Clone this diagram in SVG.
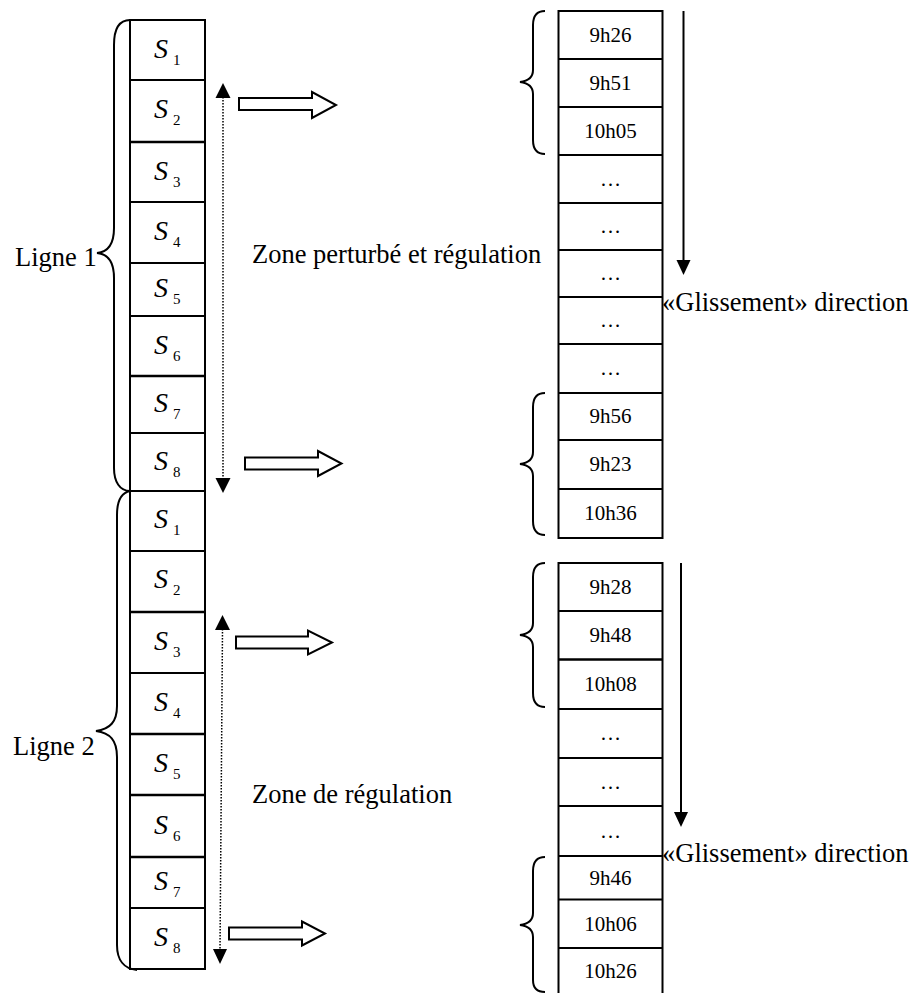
<svg xmlns="http://www.w3.org/2000/svg" width="914" height="993" viewBox="0 0 914 993">
  <style>
    .cell { fill: #fff; stroke: #000; stroke-width: 2; }
    .sep { stroke: #000; stroke-width: 2; }
    .sep-b { stroke: #000; stroke-width: 2.6; }
    .brace { fill: none; stroke: #000; stroke-width: 2; }
    .s { font-family: "Liberation Serif", "Times New Roman", serif; font-style: italic; font-size: 28px; fill: #000; }
    .sub { font-family: "Liberation Serif", "Times New Roman", serif; font-size: 15px; fill: #000; }
    .t { font-family: "Liberation Serif", "Times New Roman", serif; font-size: 21px; fill: #000; text-anchor: middle; }
    .lbl { font-family: "Liberation Serif", "Times New Roman", serif; font-size: 26.5px; fill: #000; }
    .hollow { fill: #fff; stroke: #000; stroke-width: 2; stroke-linejoin: miter; }
    .dots { stroke: #000; stroke-width: 1.5; stroke-dasharray: 1.5 1.5; fill: none; }
    .solid { stroke: #000; stroke-width: 2; fill: none; }
    .head { fill: #000; stroke: none; }
  </style>

  <!-- Line 1 stations -->
  <g id="line1">
    <rect class="cell" x="130" y="20" width="75" height="471"/>
    <line class="sep" x1="130" y1="80" x2="205" y2="80"/>
    <line class="sep-b" x1="130" y1="142" x2="205" y2="142"/>
    <line class="sep" x1="130" y1="202" x2="205" y2="202"/>
    <line class="sep" x1="130" y1="263" x2="205" y2="263"/>
    <line class="sep" x1="130" y1="316" x2="205" y2="316"/>
    <line class="sep-b" x1="130" y1="376" x2="205" y2="376"/>
    <line class="sep" x1="130" y1="433" x2="205" y2="433"/>
    <text class="s" x="154" y="58">S</text><text class="sub" x="173" y="65">1</text>
    <text class="s" x="154" y="118">S</text><text class="sub" x="173" y="125">2</text>
    <text class="s" x="154" y="180">S</text><text class="sub" x="173" y="187">3</text>
    <text class="s" x="154" y="240">S</text><text class="sub" x="173" y="247">4</text>
    <text class="s" x="154" y="297">S</text><text class="sub" x="173" y="304">5</text>
    <text class="s" x="154" y="354">S</text><text class="sub" x="173" y="361">6</text>
    <text class="s" x="154" y="412">S</text><text class="sub" x="173" y="419">7</text>
    <text class="s" x="154" y="470">S</text><text class="sub" x="173" y="477">8</text>
  </g>

  <!-- Line 2 stations -->
  <g id="line2">
    <rect class="cell" x="130" y="491" width="75" height="478"/>
    <line class="sep" x1="130" y1="551" x2="205" y2="551"/>
    <line class="sep-b" x1="130" y1="612" x2="205" y2="612"/>
    <line class="sep" x1="130" y1="673" x2="205" y2="673"/>
    <line class="sep-b" x1="130" y1="734" x2="205" y2="734"/>
    <line class="sep-b" x1="130" y1="795" x2="205" y2="795"/>
    <line class="sep-b" x1="130" y1="857" x2="205" y2="857"/>
    <line class="sep" x1="130" y1="908" x2="205" y2="908"/>
    <text class="s" x="154" y="528">S</text><text class="sub" x="173" y="535">1</text>
    <text class="s" x="154" y="588">S</text><text class="sub" x="173" y="595">2</text>
    <text class="s" x="154" y="650">S</text><text class="sub" x="173" y="657">3</text>
    <text class="s" x="154" y="711">S</text><text class="sub" x="173" y="718">4</text>
    <text class="s" x="154" y="772">S</text><text class="sub" x="173" y="779">5</text>
    <text class="s" x="154" y="834">S</text><text class="sub" x="173" y="841">6</text>
    <text class="s" x="154" y="890">S</text><text class="sub" x="173" y="897">7</text>
    <text class="s" x="154" y="946">S</text><text class="sub" x="173" y="953">8</text>
  </g>

  <!-- Line labels and braces -->
  <g id="ligne1-label">
    <path class="brace" d="M130,20 C118,20 114,30 114,45 L114,228 C114,245 108,252 97,253 C108,254 114,261 114,278 L114,468 C114,482 120,491 130,491"/>
    <text class="lbl" x="15" y="266">Ligne 1</text>
  </g>
  <g id="ligne2-label">
    <path class="brace" d="M130,491 C120,493 117,502 117,515 L117,706 C117,722 110,729 96,731 C110,733 117,740 117,757 L117,945 C117,960 124,969 137,970"/>
    <text class="lbl" x="13" y="755">Ligne 2</text>
  </g>

  <!-- Zone labels -->
  <g id="zone1-label">
    <text class="lbl" x="252" y="263">Zone perturbé et régulation</text>
  </g>
  <g id="zone2-label">
    <text class="lbl" x="252" y="803">Zone de régulation</text>
  </g>

  <!-- Timetable for line 1 -->
  <g id="times1">
    <rect class="cell" x="558.5" y="11" width="104" height="527"/>
    <line class="sep" x1="558.5" y1="59" x2="662.5" y2="59"/>
    <line class="sep" x1="558.5" y1="107" x2="662.5" y2="107"/>
    <line class="sep" x1="558.5" y1="155" x2="662.5" y2="155"/>
    <line class="sep" x1="558.5" y1="203" x2="662.5" y2="203"/>
    <line class="sep" x1="558.5" y1="250" x2="662.5" y2="250"/>
    <line class="sep" x1="558.5" y1="297" x2="662.5" y2="297"/>
    <line class="sep" x1="558.5" y1="344" x2="662.5" y2="344"/>
    <line class="sep" x1="558.5" y1="393" x2="662.5" y2="393"/>
    <line class="sep" x1="558.5" y1="440" x2="662.5" y2="440"/>
    <line class="sep" x1="558.5" y1="489" x2="662.5" y2="489"/>
    <text class="t" x="610.5" y="42">9h26</text>
    <text class="t" x="610.5" y="90">9h51</text>
    <text class="t" x="610.5" y="138">10h05</text>
    <text class="t" x="610.5" y="186">…</text>
    <text class="t" x="610.5" y="233">…</text>
    <text class="t" x="610.5" y="280">…</text>
    <text class="t" x="610.5" y="327">…</text>
    <text class="t" x="610.5" y="375">…</text>
    <text class="t" x="610.5" y="423">9h56</text>
    <text class="t" x="610.5" y="471">9h23</text>
    <text class="t" x="610.5" y="520">10h36</text>
    <path class="brace" d="M545,11 C537,11 533,16 533,25 L533,70 C533,77 528,81 520,82 C528,83 533,87 533,94 L533,140 C533,149 537,154 545,154"/>
    <path class="brace" d="M545,393 C537,393 533,398 533,407 L533,452 C533,459 528,463 520,464 C528,465 533,469 533,476 L533,521 C533,530 537,535 545,535"/>
  </g>

  <!-- Timetable for line 2 -->
  <g id="times2">
    <rect class="cell" x="558.5" y="563" width="104" height="440"/>
    <line class="sep" x1="558.5" y1="611" x2="662.5" y2="611"/>
    <line class="sep-b" x1="558.5" y1="659.5" x2="662.5" y2="659.5"/>
    <line class="sep" x1="558.5" y1="709" x2="662.5" y2="709"/>
    <line class="sep" x1="558.5" y1="758" x2="662.5" y2="758"/>
    <line class="sep" x1="558.5" y1="806" x2="662.5" y2="806"/>
    <line class="sep" x1="558.5" y1="856" x2="662.5" y2="856"/>
    <line class="sep" x1="558.5" y1="899.5" x2="662.5" y2="899.5"/>
    <line class="sep" x1="558.5" y1="948" x2="662.5" y2="948"/>
    <text class="t" x="610.5" y="594">9h28</text>
    <text class="t" x="610.5" y="642">9h48</text>
    <text class="t" x="610.5" y="691">10h08</text>
    <text class="t" x="610.5" y="740">…</text>
    <text class="t" x="610.5" y="789">…</text>
    <text class="t" x="610.5" y="838">…</text>
    <text class="t" x="610.5" y="885">9h46</text>
    <text class="t" x="610.5" y="931">10h06</text>
    <text class="t" x="610.5" y="978">10h26</text>
    <path class="brace" d="M545,563 C537,563 533,568 533,577 L533,623 C533,630 528,634 520,635 C528,636 533,640 533,647 L533,693 C533,702 537,707 545,707"/>
    <path class="brace" d="M545,857 C537,857 533,862 533,871 L533,913 C533,920 528,924 520,925 C528,926 533,930 533,937 L533,980 C533,988 537,992 545,992"/>
  </g>

  <!-- Slide direction labels -->
  <g id="slide1-label">
    <text class="lbl" x="662" y="311">«Glissement» direction</text>
  </g>
  <g id="slide2-label">
    <text class="lbl" x="662" y="862">«Glissement» direction</text>
  </g>

  <!-- Connectors -->
  <g id="connectors">
    <!-- dotted zone spans -->
    <line class="dots" x1="223" y1="97" x2="223" y2="479"/>
    <polygon class="head" points="223,83 215.5,98 230.5,98"/>
    <polygon class="head" points="223,493 215.5,478 230.5,478"/>
    <line class="dots" x1="222.5" y1="629" x2="220" y2="950"/>
    <polygon class="head" points="222.5,615 215,630 230,630"/>
    <polygon class="head" points="220,964 213,949 227,949"/>

    <!-- hollow block arrows -->
    <polygon class="hollow" points="239,98 312,98 312,92 336,105 312,118 312,110 239,110"/>
    <polygon class="hollow" points="245,457.5 318,457.5 318,451 341.5,463.5 318,476 318,469.5 245,469.5"/>
    <polygon class="hollow" points="236,636.5 308,636.5 308,630.5 332,642.5 308,654.5 308,648.5 236,648.5"/>
    <polygon class="hollow" points="229,927.5 302,927.5 302,921.5 325,933.5 302,945.5 302,939.5 229,939.5"/>

    <!-- slide direction arrows -->
    <line class="solid" x1="683.5" y1="11" x2="683.5" y2="261"/>
    <polygon class="head" points="683.5,275 676.5,260 690.5,260"/>
    <line class="solid" x1="681" y1="563" x2="681" y2="813"/>
    <polygon class="head" points="681,827 674,812 688,812"/>
  </g>
</svg>
